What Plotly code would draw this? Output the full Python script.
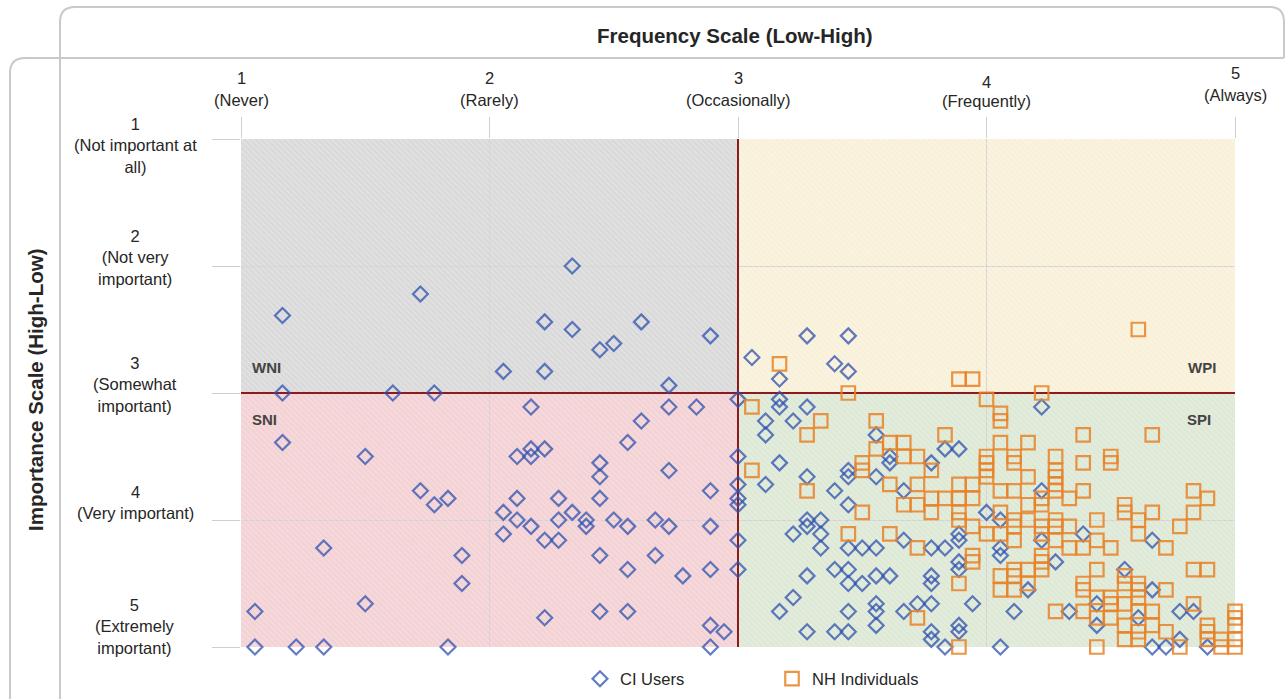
import plotly.graph_objects as go

# ---------------- data ----------------
ci_x = [1.167, 1.722, 2.333, 2.222, 2.333, 2.611, 2.444, 2.5, 2.889, 2.056, 2.222, 2.722, 1.167, 1.611, 1.778,
        2.167, 2.722, 2.833, 3.0, 1.167, 1.5, 2.611, 2.556, 2.111, 2.167, 2.167, 2.222, 2.444, 2.444, 2.722, 3.0,
        1.722, 1.778, 1.833, 2.111, 2.278, 2.444, 2.889, 3.0, 3.0, 3.0, 2.056, 2.111, 2.167, 2.278, 2.333, 2.389,
        2.389, 2.5, 2.556, 2.667, 2.722, 2.889, 2.056, 2.222, 2.278, 3.0, 1.333, 1.889, 2.444, 2.667, 2.556, 2.778,
        2.889, 3.0, 1.889, 1.5, 1.056, 2.222, 2.444, 2.556, 2.889, 2.944, 1.056, 1.222, 1.333, 1.833, 2.889,
        3.056, 3.278, 3.444, 3.167, 3.389, 3.444,
        4.222, 3.167, 3.167, 3.278, 3.111, 3.222, 3.111, 3.556, 3.167, 3.444, 3.444, 3.611, 3.611, 3.556, 3.778,
        3.833, 3.889, 3.278, 3.111, 3.389, 3.667, 3.444, 3.278, 3.333, 3.278, 3.222, 3.333, 3.333, 3.444, 3.5,
        3.556, 3.667, 3.778, 3.833, 3.889, 3.889, 4.0, 4.056, 3.278, 3.389, 3.444, 3.444, 3.5, 3.556, 3.611,
        3.778, 3.778, 3.889, 3.889, 3.222, 3.167, 3.444, 3.556, 3.556, 3.667, 3.722, 3.778, 3.944, 3.556, 3.278,
        3.389, 3.444, 3.778, 3.778, 3.889, 3.889, 3.833, 4.222, 4.056, 4.056, 4.222, 4.278, 4.389, 4.667, 4.167,
        4.111, 4.333, 4.444, 4.444, 4.556, 4.611, 4.667, 4.778, 4.833, 4.778, 4.889, 4.056, 4.667, 4.722]
ci_y = [2.39, 2.22, 2.0, 2.44, 2.5, 2.44, 2.66, 2.61, 2.55, 2.83, 2.83, 2.94, 3.0, 3.0, 3.0,
        3.11, 3.11, 3.11, 3.05, 3.39, 3.5, 3.22, 3.39, 3.5, 3.44, 3.5, 3.44, 3.55, 3.66, 3.61, 3.5,
        3.77, 3.88, 3.83, 3.83, 3.83, 3.83, 3.77, 3.72, 3.83, 3.88, 3.94, 4.0, 4.05, 4.0, 3.94, 4.0,
        4.05, 4.0, 4.05, 4.0, 4.05, 4.05, 4.11, 4.16, 4.16, 4.16, 4.22, 4.28, 4.28, 4.28, 4.39, 4.44,
        4.39, 4.39, 4.5, 4.66, 4.72, 4.77, 4.72, 4.72, 4.83, 4.88, 5.0, 5.0, 5.0, 5.0, 5.0,
        2.72, 2.55, 2.55, 2.89, 2.77, 2.83,
        3.11, 3.05, 3.11, 3.11, 3.22, 3.22, 3.33, 3.33, 3.55, 3.61, 3.66, 3.5, 3.55, 3.66, 3.55,
        3.44, 3.44, 3.66, 3.72, 3.77, 3.77, 3.88, 4.0, 4.0, 4.05, 4.11, 4.11, 4.22, 4.22, 4.22,
        4.22, 4.16, 4.22, 4.22, 4.11, 4.16, 3.94, 4.0, 4.44, 4.39, 4.39, 4.5, 4.5, 4.44, 4.44,
        4.44, 4.5, 4.33, 4.39, 4.61, 4.72, 4.72, 4.66, 4.72, 4.72, 4.66, 4.66, 4.66, 4.83, 4.88,
        4.88, 4.88, 4.88, 4.94, 4.83, 4.88, 5.0, 3.77, 4.22, 4.28, 4.16, 4.33, 4.11, 4.16, 4.55,
        4.72, 4.72, 4.66, 4.83, 4.39, 4.77, 4.55, 4.72, 4.72, 4.94, 5.0, 5.0, 5.0, 5.0]

nh_x = [4.611, 3.167, 3.889, 3.944, 3.444, 4.222,
        4.0, 3.056, 3.333, 3.556, 4.056, 4.056, 3.278, 3.833, 3.556, 3.611, 3.667, 3.667, 3.722, 3.5,
        3.5, 3.778, 3.056, 3.278, 3.611, 3.722, 3.889, 3.944, 3.667, 3.722, 3.778, 3.833, 3.889, 3.944,
        3.778, 3.889, 3.5, 4.0, 4.0, 4.0, 4.0, 4.056, 4.167, 4.389, 4.667, 4.111, 4.111, 4.278, 4.278,
        4.278, 4.278, 4.278, 4.389, 4.5, 4.5, 4.167, 4.056, 4.111, 4.222, 4.333, 4.389, 4.167, 4.222,
        4.056, 4.111, 4.167, 4.278, 4.444, 4.556, 4.556, 4.611, 4.667, 4.833, 4.889, 4.833, 4.778,
        4.0, 4.056, 4.111, 4.222, 4.222, 4.278, 4.278, 4.333, 4.333, 4.389, 4.444, 4.5, 4.611, 4.722,
        4.111, 4.222, 4.222, 4.222, 4.056, 4.111, 4.167, 4.111, 4.167, 4.056, 4.111, 4.444, 4.556,
        4.556, 4.611, 4.611, 4.389, 4.389, 4.722, 4.833, 4.889, 4.444, 4.5, 4.556, 4.611, 4.278,
        4.389, 4.444, 4.5, 4.5, 4.611, 4.667, 4.556, 4.611, 4.667, 4.722, 4.833, 4.889, 4.889, 4.556,
        4.611, 4.444, 4.778, 4.944, 4.944, 5.0, 5.0, 5.0, 5.0, 5.0, 4.889,
        3.889, 3.944, 3.444, 3.611, 3.722, 3.944, 3.944, 3.889, 3.722, 3.889]
nh_y = [2.5, 2.77, 2.89, 2.89, 3.0, 3.0,
        3.05, 3.11, 3.22, 3.22, 3.16, 3.22, 3.33, 3.33, 3.44, 3.39, 3.39, 3.5, 3.5, 3.55,
        3.61, 3.61, 3.61, 3.77, 3.72, 3.72, 3.72, 3.72, 3.88, 3.88, 3.83, 3.83, 3.83, 3.83,
        3.94, 3.94, 3.94, 3.5, 3.55, 3.61, 3.66, 3.39, 3.39, 3.33, 3.33, 3.5, 3.55, 3.5, 3.61,
        3.66, 3.72, 3.77, 3.55, 3.5, 3.55, 3.66, 3.77, 3.77, 3.83, 3.83, 3.77, 3.88, 3.88,
        3.94, 4.0, 4.0, 4.0, 4.0, 3.88, 3.94, 4.0, 3.94, 3.77, 3.83, 3.94, 4.05,
        4.11, 4.11, 4.05, 4.05, 4.11, 4.05, 4.16, 4.05, 4.22, 4.22, 4.16, 4.22, 4.11, 4.22,
        4.16, 4.28, 4.33, 4.39, 4.44, 4.39, 4.39, 4.44, 4.5, 4.55, 4.55, 4.39, 4.44,
        4.5, 4.5, 4.55, 4.5, 4.55, 4.55, 4.39, 4.39, 4.61, 4.61, 4.66, 4.61, 4.72,
        4.72, 4.77, 4.77, 4.66, 4.72, 4.72, 4.83, 4.88, 4.83, 4.88, 4.66, 4.83, 4.88, 4.94,
        4.94, 5.0, 5.0, 4.94, 5.0, 4.72, 4.77, 4.83, 4.94, 5.0, 4.94,
        4.0, 4.05, 4.11, 4.11, 4.22, 4.28, 4.33, 4.5, 4.77, 5.0]

x_ticks = [1, 2, 3, 4, 5]
x_num = ["1", "2", "3", "4", "5"]
x_desc = ["(Never)", "(Rarely)", "(Occasionally)", "(Frequently)", "(Always)"]
y_ticks = [1, 2, 3, 4, 5]
y_labels = ["1<br>(Not important at<br>all)", "2<br>(Not very<br>important)", "3<br>(Somewhat<br>important)",
            "4<br>(Very important)", "5<br>(Extremely<br>important)"]
threshold = 3

# ---------------- layout helpers (pixel -> paper) ----------------
W, H = 1286, 699
L, R, T, B = 241, 1235, 139, 647
def px(xp):
    return (xp - L) / (R - L)
def py(yp):
    return (B - yp) / (B - T)

TXT = "#262626"
fig = go.Figure()

# quadrant hatch overlays (solid fills are shapes below the grid)
quad_cols = [(2, 2, "rgba(255,255,255,0.55)"), (4, 2, "rgba(255,255,255,0.55)"),
             (2, 4, "rgba(255,255,255,0.5)"), (4, 4, "rgba(255,255,255,0.5)")]
for qx, qy, fg in quad_cols:
    fig.add_trace(go.Bar(x=[qx], y=[2], base=[qy - 1], width=[2], showlegend=False, hoverinfo="skip",
                         marker=dict(color="rgba(0,0,0,0)", line=dict(width=0),
                                     pattern=dict(shape="\\", fgcolor=fg, size=4, solidity=0.35))))

# threshold lines
fig.add_trace(go.Scatter(x=[threshold, threshold], y=[1, 5], mode="lines", showlegend=False, hoverinfo="skip",
                         line=dict(color="#8e1b1b", width=2)))
fig.add_trace(go.Scatter(x=[1, 5], y=[threshold, threshold], mode="lines", showlegend=False, hoverinfo="skip",
                         line=dict(color="#8e1b1b", width=2)))

fig.add_trace(go.Scatter(x=ci_x, y=ci_y, mode="markers", name="CI Users", cliponaxis=False,
                         marker=dict(symbol="diamond-open", size=11.5, color="rgba(45,80,175,0.75)",
                                     line=dict(width=2.2))))
fig.add_trace(go.Scatter(x=nh_x, y=nh_y, mode="markers", name="NH Individuals", cliponaxis=False,
                         marker=dict(symbol="square-open", size=13.5, color="rgba(232,130,40,0.85)",
                                     line=dict(width=2.2))))

shapes = []
quad_fill = [(1, 3, 1, 3, "#d9d9d9"), (3, 5, 1, 3, "#f8f0d8"), (1, 3, 3, 5, "#f3d1d4"), (3, 5, 3, 5, "#dde8d5")]
for x0, x1, y0, y1, c in quad_fill:
    shapes.append(dict(type="rect", xref="x", yref="y", x0=x0, x1=x1, y0=y0, y1=y1,
                       fillcolor=c, line=dict(width=0), layer="below"))

frame = "#c9c9c9"
def P(x, y):
    return f"{px(x):.5f},{py(y):.5f}"
shapes.append(dict(type="path", xref="paper", yref="paper", layer="above", line=dict(color=frame, width=2),
                   path=f"M{P(60,699)} L{P(60,22)} Q{P(60,7)} {P(75,7)} L{P(1270,7)} Q{P(1284,7)} {P(1284,22)} L{P(1284,58)}"))
shapes.append(dict(type="path", xref="paper", yref="paper", layer="above", line=dict(color=frame, width=2),
                   path=f"M{P(10,699)} L{P(10,73)} Q{P(10,58)} {P(25,58)} L{P(1284,58)}"))

annotations = []
def ann(text, x, y, size, xref="paper", xanchor="center", color=TXT, angle=0):
    annotations.append(dict(text=text, xref=xref, yref="paper", x=x, y=y, xanchor=xanchor, yanchor="middle",
                            showarrow=False, align="center", textangle=angle,
                            font=dict(size=size, color=color)))

ann("<b>Frequency Scale (Low-High)</b>", px(735), py(36), 20.5)
ann("<b>Importance Scale (High-Low)</b>", px(35), py(390), 20.5, angle=-90)
x_num_y = [78, 78, 78, 82, 73]
x_desc_y = [100, 100, 100, 101, 95]
for i, v in enumerate(x_ticks):
    ann(x_num[i], v, py(x_num_y[i]), 16.5, xref="x")
    ann(x_desc[i], v, py(x_desc_y[i]), 16.5, xref="x")
y_lab_c = [145, 257, 384, 502, 626]
for i, v in enumerate(y_ticks):
    ann(y_labels[i], px(135), py(y_lab_c[i]), 16.5)
for txt, xx, yy, anc in [("WNI", 250, 367, "left"), ("SNI", 250, 419, "left"),
                         ("WPI", 1218, 367, "right"), ("SPI", 1213, 419, "right")]:
    ann(f"<b>{txt}</b>", px(xx), py(yy), 15, xanchor=anc, color="#444")

fig.update_layout(
    width=W, height=H, margin=dict(l=L, r=W - R, t=T, b=H - B, autoexpand=False),
    paper_bgcolor="white", plot_bgcolor="white",
    font=dict(family="Liberation Sans, Arial, sans-serif", color=TXT),
    barmode="overlay", bargap=0,
    showlegend=True,
    legend=dict(orientation="h", xref="container", yref="container", x=580 / W, xanchor="left",
                y=(H - 679) / H, yanchor="middle",
                entrywidth=147, entrywidthmode="pixels", font=dict(size=16.5, color=TXT),
                bgcolor="rgba(0,0,0,0)"),
    xaxis=dict(range=[1, 5], side="top", tickvals=x_ticks, showticklabels=False, ticks="outside", ticklen=21,
               tickcolor="#cfcfcf", showgrid=True, gridcolor="#d2d2d2", zeroline=False, showline=False),
    yaxis=dict(range=[5, 1], tickvals=y_ticks, showticklabels=False, ticks="outside", ticklen=28,
               tickcolor="#cfcfcf", showgrid=True, gridcolor="#d2d2d2", zeroline=False, showline=False),
    shapes=shapes, annotations=annotations,
)

fig.write_html("out.html", config={"displayModeBar": False},
               post_script="document.body.style.margin='0';document.body.style.overflow='hidden';")
